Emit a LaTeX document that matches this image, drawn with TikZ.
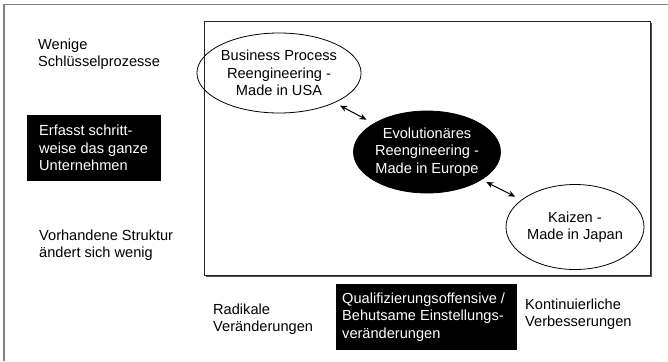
\documentclass[tikz,border=0pt]{standalone}
\usepackage{fontspec}
\setmainfont{Liberation Sans}
\usetikzlibrary{shapes.geometric,arrows.meta}
\definecolor{framegray}{HTML}{808080}
\definecolor{shadowgray}{HTML}{505050}
\tikzset{
  lbl/.style={anchor=west,inner sep=0pt,align=left,font=\fontsize{14.6bp}{17.5bp}\selectfont},
  whitelbl/.style={lbl,text=white},
  ell/.style={ellipse,draw=black,line width=0.8bp,inner sep=0pt,align=center,font=\fontsize{14.6bp}{17.5bp}\selectfont},
  dbl/.style={{Stealth[length=7bp,width=6bp]}-{Stealth[length=7bp,width=6bp]},line width=1bp,black}
}
\begin{document}
\begin{tikzpicture}[x=1bp,y=-1bp]
\useasboundingbox (0,0) rectangle (668,361);
% outer frame
\draw[framegray,line width=1.5bp] (4,361) -- (4,4.5) -- (668,4.5);
% inner frame with shadow
\draw[shadowgray,line width=2bp] (651,23) -- (651,276) -- (206,276);
\draw[black!85,line width=0.8bp] (204,21.5) rectangle (650,275);
% black boxes
\fill[black] (27,115) rectangle (161,181);
\fill[black] (336,284) rectangle (517,350);
% left labels
\node[lbl] (wenige) at (38,54) {Wenige\\Schlüsselprozesse};
\node[whitelbl] (erfasst) at (39,148) {Erfasst schritt-\\weise das ganze\\Unternehmen};
\node[lbl] (vorh) at (39,245) {Vorhandene Struktur\\ändert sich wenig};
% bottom labels
\node[lbl] (radikal) at (213,319) {Radikale\\Veränderungen};
\node[whitelbl] (quali) at (342,317) {Qualifizierungsoffensive /\\Behutsame Einstellungs-\\veränderungen};
\node[lbl] (kont) at (525,314) {Kontinuierliche\\Verbesserungen};
% ellipses
\node[ell,minimum width=138bp,minimum height=80bp] (bpr) at (279,73) {Business Process\\Reengineering -\\Made in USA};
\node[ell,fill=black,text=white,minimum width=140bp,minimum height=82bp] (eu) at (427,152) {Evolutionäres\\Reengineering -\\Made in Europe};
\node[ell,minimum width=138bp,minimum height=85bp] (kai) at (575,227) {Kaizen -\\Made in Japan};
% arrows
\draw[dbl,shorten <=6bp,shorten >=8bp] (bpr) -- (eu);
\draw[dbl,shorten <=5bp,shorten >=7bp] (eu) -- (kai);
\end{tikzpicture}
\end{document}
